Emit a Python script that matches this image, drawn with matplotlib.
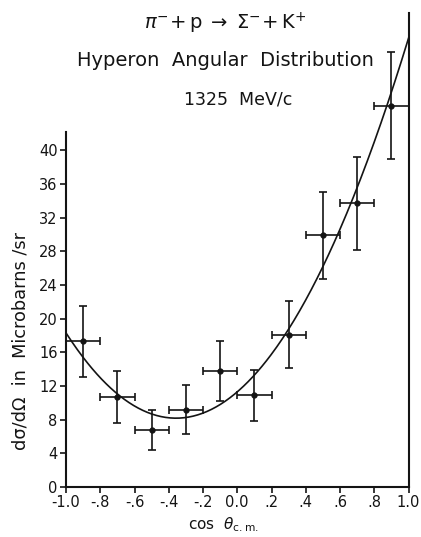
import matplotlib
matplotlib.use("Agg")
import matplotlib.pyplot as plt
import numpy as np

# Measured hyperon angular distribution at 1325 MeV/c
cos_theta = [-0.9, -0.7, -0.5, -0.3, -0.1, 0.1, 0.3, 0.5, 0.7, 0.9]
dsigma = [17.3, 10.7, 6.8, 9.2, 13.8, 10.9, 18.1, 29.9, 33.7, 45.3]
dsigma_err = [4.2, 3.1, 2.4, 2.9, 3.6, 3.05, 4.0, 5.15, 5.5, 6.4]
bin_halfwidth = [0.1] * 10

# Polynomial fit coefficients (lowest order first) for the smooth curve
fit_coeffs = [11.3, 17.5, 24.5]

x_ticks = [-1.0, -0.8, -0.6, -0.4, -0.2, 0.0, 0.2, 0.4, 0.6, 0.8, 1.0]
x_ticklabels = ["-1.0", "-.8", "-.6", "-.4", "-.2", "0.0", ".2", ".4", ".6", ".8", "1.0"]
y_ticks = [0, 4, 8, 12, 16, 20, 24, 28, 32, 36, 40]

plt.rcParams["font.family"] = ["DejaVu Sans"]
plt.rcParams["mathtext.fontset"] = "dejavusans"

W, H = 421, 537
fig = plt.figure(figsize=(W / 100, H / 100), dpi=100)
ax_w, ax_h = 408.5 - 66, 487 - 13
ax = fig.add_axes([66 / W, 50 / H, ax_w / W, ax_h / H])

ink = "#141414"

xs = np.linspace(-1.0, 1.0, 300)
ys = np.polynomial.polynomial.polyval(xs, fit_coeffs)
ax.plot(xs, ys, color=ink, lw=1.2, zorder=2)

ax.errorbar(cos_theta, dsigma, yerr=dsigma_err, xerr=bin_halfwidth,
            fmt="o", ms=3.5, color=ink, ecolor=ink, elinewidth=1.2,
            capsize=3.2, capthick=1.2, zorder=3)

ax.set_xlim(-1.0, 1.0)
ax.set_ylim(0, 56.3)
ax.set_xticks(x_ticks)
ax.set_xticklabels(x_ticklabels)
ax.set_yticks(y_ticks)
ax.tick_params(direction="out", length=4, width=1.2, colors=ink,
               labelsize=10.5, pad=2)

ax.spines["top"].set_visible(False)
ax.spines["left"].set_bounds(0, 42.2)
for s in ("left", "bottom", "right"):
    ax.spines[s].set_linewidth(1.5)
    ax.spines[s].set_color(ink)

ax.set_xlabel(r"cos  $\theta_{\mathrm{c.m.}}$", fontsize=11, color=ink)
ax.xaxis.set_label_coords((223 - 66) / ax_w, (487 - 525) / ax_h)
ax.set_ylabel("dσ/dΩ  in  Microbarns /sr", fontsize=12.8, color=ink)
ax.yaxis.set_label_coords((21 - 66) / ax_w, (487 - 341) / ax_h)
ax.xaxis.label.set_va("center")
ax.yaxis.label.set_va("center")

fig.text(225 / W, 1 - 23 / H,
         r"$\pi^{-}\!+\mathrm{p}\;\rightarrow\;\Sigma^{-}\!+\mathrm{K}^{+}$",
         ha="center", va="center", fontsize=14, color=ink)
fig.text(225 / W, 1 - 60 / H, "Hyperon  Angular  Distribution",
         ha="center", va="center", fontsize=14, color=ink)
fig.text(238 / W, 1 - 99 / H, "1325  MeV/c",
         ha="center", va="center", fontsize=12.5, color=ink)

fig.savefig("out.png", dpi=100, facecolor="white")
